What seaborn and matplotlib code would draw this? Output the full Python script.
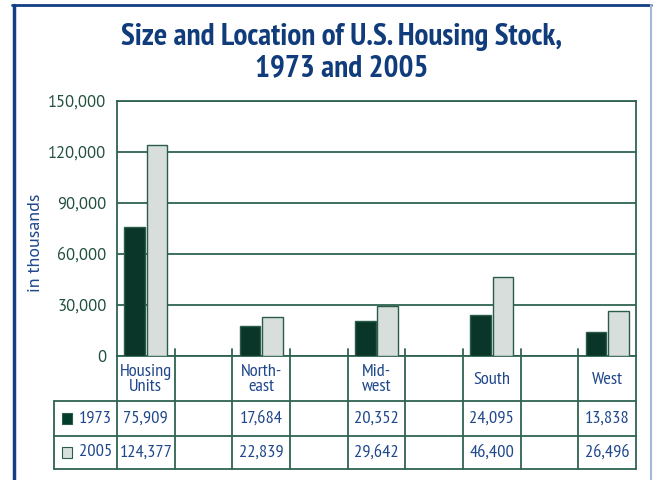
import matplotlib
matplotlib.use("Agg")
import matplotlib.pyplot as plt
import matplotlib.transforms as mtransforms
from matplotlib.lines import Line2D
from matplotlib.patches import Rectangle
import seaborn as sns
import pandas as pd

# ---- data ----
categories = ["Housing Units", "Northeast", "Midwest", "South", "West"]
header_labels = ["Housing\nUnits", "North-\neast", "Mid-\nwest", "South", "West"]
years = ["1973", "2005"]
values_1973 = [75909, 17684, 20352, 24095, 13838]
values_2005 = [124377, 22839, 29642, 46400, 26496]
y_ticks = [0, 30000, 60000, 90000, 120000, 150000]

title = "Size and Location of U.S. Housing Stock,\n1973 and 2005"
y_label = "in thousands"

# ---- style ----
DARK = "#023d2c"
LIGHT = "#d7dfdc"
EDGE = "#2b5c48"
GRID = "#2f6350"
TICKC = "#22503d"
TITLEC = "#113c7c"
TEXTC = "#1f478c"
FRAME = "#123f83"
FRAME_R = "#a3b7da"

sns.set_theme(style="white")
plt.rcParams["font.family"] = ["PT Sans", "DejaVu Sans"]
NARROW = ["PT Sans Narrow", "Roboto Condensed", "DejaVu Sans"]
REG = ["PT Sans", "DejaVu Sans"]

df = pd.DataFrame({
    "category": categories * 2,
    "year": [years[0]] * len(categories) + [years[1]] * len(categories),
    "value": values_1973 + values_2005,
})

# categories with blank spacer columns between them
order = []
for i, c in enumerate(categories):
    order.append(c)
    if i < len(categories) - 1:
        order.append(" " * (i + 1))

fig = plt.figure(figsize=(6.53, 4.8), dpi=100)
ax = fig.add_axes([117 / 653, 1 - 356 / 480, (636 - 117) / 653, (356 - 101) / 480])

sns.barplot(data=df, x="category", y="value", hue="year", order=order,
            hue_order=years, palette={years[0]: DARK, years[1]: LIGHT},
            width=0.78, gap=0.08, edgecolor=EDGE, linewidth=1.0,
            legend=False, ax=ax, zorder=3)

ax.set_xlim(-0.5, len(order) - 0.5)
ax.set_ylim(0, 150000)
ax.set_yticks(y_ticks)
ax.set_yticklabels([f"{v:,}" for v in y_ticks], color=TICKC, fontsize=12, family=REG)
ax.tick_params(axis="y", length=0, pad=7.5)
ax.set_xticks([])
ax.set_xlabel("")
ax.set_ylabel("")
ax.yaxis.grid(True, color=GRID, linewidth=1.3, zorder=0)
for s in ax.spines.values():
    s.set_color(GRID)
    s.set_linewidth(1.3)

# ---- table under the axis ----
tr = mtransforms.blended_transform_factory(ax.transData, ax.transAxes)
ah = 356 - 101  # axes height in px
def ay(px_below):
    return -px_below / ah

row_top = ay(45)     # header bottom
row_mid = ay(80)
row_bot = ay(113)
stub = ay(-7)
lc = -1.59  # legend column left in data units
n = len(order)

lw = 1.3
for k in range(n + 1):
    xb = -0.5 + k
    ax.add_line(Line2D([xb, xb], [stub if 0 < k < n else 0, row_bot], transform=tr,
                       color=GRID, lw=lw, clip_on=False))
for yy in [row_top, row_mid, row_bot]:
    ax.add_line(Line2D([lc, n - 0.5], [yy, yy], transform=tr, color=GRID, lw=lw, clip_on=False))
ax.add_line(Line2D([lc, lc], [row_top, row_bot], transform=tr, color=GRID, lw=lw, clip_on=False))

FS = 13.2
# header labels
for i, lab in enumerate(header_labels):
    ax.text(order.index(categories[i]), (0 + row_top) / 2 - 0.005, lab, transform=tr,
            ha="center", va="center", color=TEXTC, fontsize=FS, family=NARROW,
            linespacing=0.95)

# rows
row_centers = [(row_top + row_mid) / 2, (row_mid + row_bot) / 2]
for r, (yr, vals, col) in enumerate(zip(years, [values_1973, values_2005], [DARK, LIGHT])):
    yc = row_centers[r]
    ax.add_patch(Rectangle((-1.455, yc - 0.021), 0.175, 0.042, transform=tr,
                           facecolor=col, edgecolor=EDGE, lw=0.8, clip_on=False))
    ax.text(-1.165, yc, yr, transform=tr, ha="left", va="center",
            color=TEXTC, fontsize=FS, family=NARROW)
    for i, v in enumerate(vals):
        ax.text(order.index(categories[i]), yc, f"{v:,}", transform=tr,
                ha="center", va="center", color=TEXTC, fontsize=FS, family=NARROW)

# ---- titles ----
fig.text(342 / 653, 1 - 52.5 / 480, title, ha="center", va="center", color=TITLEC,
         fontsize=22.5, fontweight="bold", family=NARROW, linespacing=1.16)
fig.text(36 / 653, 1 - 243 / 480, y_label, rotation=90, ha="center", va="center",
         color=TEXTC, fontsize=13, family=REG)

# ---- frame ----
fig.add_artist(Line2D([13.5 / 653, 13.5 / 653], [0, 1 - 5 / 480], transform=fig.transFigure,
                      color=FRAME, lw=2.5))
fig.add_artist(Line2D([12.5 / 653, 651 / 653], [1 - 5 / 480, 1 - 5 / 480], transform=fig.transFigure,
                      color=FRAME, lw=2.0))
fig.add_artist(Line2D([651 / 653, 651 / 653], [0, 1 - 5 / 480], transform=fig.transFigure,
                      color=FRAME_R, lw=1.5))

fig.savefig("out.png", dpi=100)
